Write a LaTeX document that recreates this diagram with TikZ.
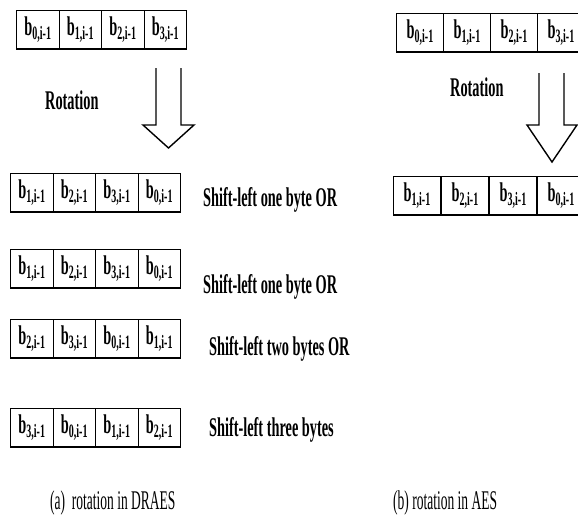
\documentclass[tikz,border=0pt]{standalone}
\usepackage{fontspec}
\setmainfont{Liberation Serif}
\usepackage{graphicx}
\newcommand{\sqz}[1]{\scalebox{0.53}[1]{#1}}
\newcommand{\sqc}[1]{\scalebox{0.5}[1]{#1}}
\newcommand{\bb}[1]{\sqz{b\textsubscript{#1,i-1}}}
\tikzset{
  cell/.style={draw, line width=1.2pt, minimum width=42.5pt, minimum height=38pt,
    inner sep=0pt, anchor=north west, font=\fontsize{27}{27}\selectfont\bfseries},
  wcell/.style={cell, minimum width=47pt},
  lbl/.style={anchor=base west, inner sep=0pt, font=\fontsize{27}{27}\selectfont\bfseries},
  captxt/.style={anchor=base west, inner sep=0pt, font=\fontsize{27}{27}\selectfont},
  blockarrow/.style={draw, line width=1.4pt, line join=miter},
  thickbottom/.style={line width=2.4pt}
}
\begin{document}
\begin{tikzpicture}[x=1pt,y=-1pt]
\useasboundingbox (0,0) rectangle (578,517);
\clip (0,0) rectangle (578,517);
% ---------- (a) DRAES ----------
\foreach \lab [count=\i] in {0,1,2,3}
  \node[cell] (a0-\i) at ({16+(\i-1)*42.5},10) {\bb{\lab}};
\draw[thickbottom] (a0-1.south west) -- (a0-4.south east);
\node[lbl] (rotA) at (45,109) {\sqz{Rotation}};
\draw[blockarrow] (156,68) -- (156,125) -- (143,125) -- (168.5,148) -- (194,125) -- (181,125) -- (181,68);

\foreach \lab [count=\i] in {1,2,3,0}
  \node[cell] (a1-\i) at ({10+(\i-1)*42.5},173) {\bb{\lab}};
\draw[thickbottom] (a1-1.south west) -- (a1-4.south east);
\node[lbl] (s1) at (203,206) {\sqz{Shift-left one byte OR}};

\foreach \lab [count=\i] in {1,2,3,0}
  \node[cell] (a2-\i) at ({10+(\i-1)*42.5},249) {\bb{\lab}};
\draw[thickbottom] (a2-1.south west) -- (a2-4.south east);
\node[lbl] (s2) at (203,293) {\sqz{Shift-left one byte OR}};

\foreach \lab [count=\i] in {2,3,0,1}
  \node[cell] (a3-\i) at ({10+(\i-1)*42.5},319) {\bb{\lab}};
\draw[thickbottom] (a3-1.south west) -- (a3-4.south east);
\node[lbl] (s3) at (209,355) {\sqz{Shift-left two bytes OR}};

\foreach \lab [count=\i] in {3,0,1,2}
  \node[cell] (a4-\i) at ({10+(\i-1)*42.5},408) {\bb{\lab}};
\draw[thickbottom] (a4-1.south west) -- (a4-4.south east);
\node[lbl] (s4) at (209,436) {\sqz{Shift-left three bytes}};

\node[captxt] (capA) at (50,509) {\sqc{(a)\ \ rotation in DRAES}};

% ---------- (b) AES ----------
\foreach \lab [count=\i] in {0,1,2,3}
  \node[wcell] (b0-\i) at ({396+(\i-1)*47},13) {\bb{\lab}};
\draw[thickbottom] (b0-1.south west) -- (b0-4.south east);
\node[lbl] (rotB) at (450,96) {\sqz{Rotation}};
\draw[blockarrow] (539,73) -- (539,125) -- (527,125) -- (552,162) -- (577,125) -- (564,125) -- (564,73);

\foreach \lab [count=\i] in {1,2,3,0}
  \node[wcell] (b1-\i) at ({393+(\i-1)*48},176) {\bb{\lab}};
\draw[thickbottom] (b1-1.south west) -- (b1-4.south east);

\node[captxt] (capB) at (393,509) {\sqc{(b) rotation in AES}};
\end{tikzpicture}
\end{document}
